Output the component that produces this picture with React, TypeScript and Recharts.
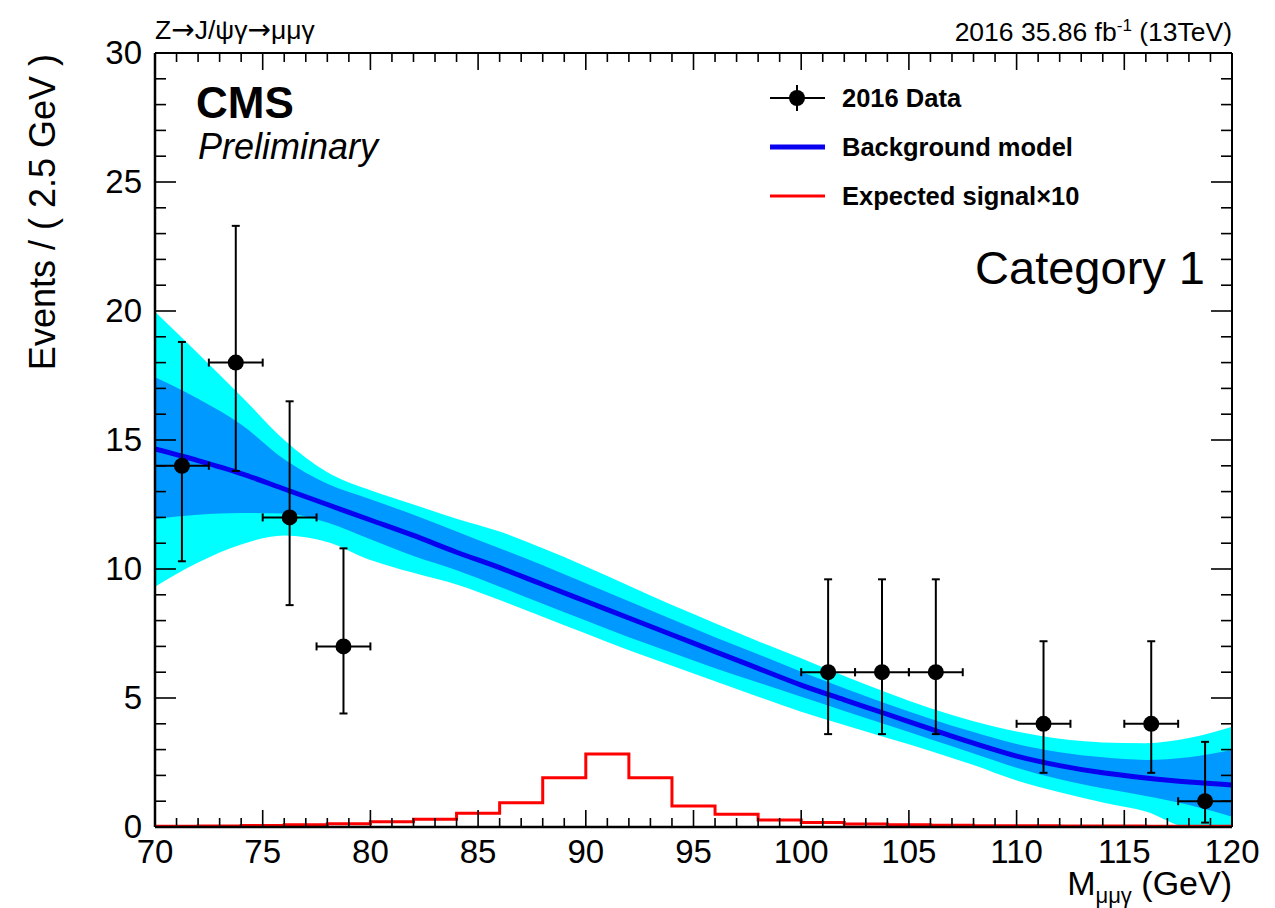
import React from 'react';
import { ComposedChart, Area, Line, Scatter, XAxis, YAxis, ErrorBar } from 'recharts';

// Background model: sampling points in M(μμγ) [GeV]
const MASS = [70, 72, 74, 76, 78, 80, 82, 84, 86, 88, 90, 92, 94, 96, 98, 100, 102, 104, 106, 108, 110, 112, 114, 116, 118, 120];
// Fitted background shape (events / 2.5 GeV)
const BKG = [14.65, 14.2, 13.7, 13.1, 12.5, 11.9, 11.3, 10.65, 10.05, 9.4, 8.75, 8.1, 7.45, 6.8, 6.15, 5.5, 4.93, 4.37, 3.8, 3.25, 2.75, 2.38, 2.1, 1.9, 1.74, 1.63];
// ±1σ uncertainty band
const BKG_1S_LO = [11.94, 12.1, 12.17, 12.15, 11.8, 11.15, 10.5, 9.95, 9.31, 8.65, 8.0, 7.35, 6.75, 6.15, 5.6, 5.05, 4.5, 3.95, 3.4, 2.85, 2.3, 1.85, 1.5, 1.2, 0.85, 0.4];
const BKG_1S_HI = [17.43, 16.6, 15.6, 14.25, 13.3, 12.7, 12.1, 11.45, 10.8, 10.15, 9.45, 8.75, 8.05, 7.35, 6.7, 6.02, 5.38, 4.77, 4.2, 3.68, 3.22, 2.9, 2.7, 2.6, 2.7, 2.98];
// ±2σ uncertainty band
const BKG_2S_LO = [9.31, 10.25, 10.95, 11.3, 11.05, 10.35, 9.85, 9.4, 8.8, 8.15, 7.5, 6.85, 6.25, 5.65, 5.05, 4.47, 3.95, 3.45, 2.95, 2.4, 1.8, 1.35, 0.95, 0.6, 0.0, 0.0];
const BKG_2S_HI = [19.97, 18.35, 16.7, 15.0, 13.75, 13.05, 12.5, 11.95, 11.45, 10.8, 10.1, 9.35, 8.6, 7.9, 7.2, 6.54, 5.85, 5.2, 4.6, 4.1, 3.7, 3.42, 3.28, 3.25, 3.45, 3.89];

// Expected signal (×10), 2 GeV bins: lower edges and contents
const SIG_EDGES = [70, 72, 74, 76, 78, 80, 82, 84, 86, 88, 90, 92, 94, 96, 98, 100, 102, 104, 106, 108, 110, 112, 114, 116, 118];
const SIG_X10 = [0.03, 0.04, 0.06, 0.09, 0.13, 0.2, 0.3, 0.53, 0.94, 1.91, 2.83, 1.91, 0.81, 0.49, 0.27, 0.17, 0.12, 0.09, 0.07, 0.05, 0.05, 0.04, 0.04, 0.03, 0.03];
const SIG_LAST_EDGE = 120;

// 2016 data: bin centres, counts and Poisson intervals
const DATA_MASS = [71.25, 73.75, 76.25, 78.75, 101.25, 103.75, 106.25, 111.25, 116.25, 118.75];
const DATA_COUNTS = [14, 18, 12, 7, 6, 6, 6, 4, 4, 1];
const DATA_LO = [10.3, 13.8, 8.6, 4.4, 3.6, 3.6, 3.6, 2.1, 2.1, 0.17];
const DATA_HI = [18.8, 23.3, 16.5, 10.8, 9.6, 9.6, 9.6, 7.2, 7.2, 3.3];
const BIN_HALF_WIDTH = 1.25;

// Axis ticks
const X_MAJOR = [70, 75, 80, 85, 90, 95, 100, 105, 110, 115, 120];
const Y_MAJOR = [0, 5, 10, 15, 20, 25, 30];
const X_TICKS = Array.from({ length: 51 }, (_, i) => 70 + i);
const Y_TICKS = Array.from({ length: 31 }, (_, i) => i);

const bandRows = MASS.map((m, i) => ({
  m,
  bkg: BKG[i],
  band1: [BKG_1S_LO[i], BKG_1S_HI[i]],
  band2: [BKG_2S_LO[i], BKG_2S_HI[i]],
}));

const sigRows = [
  ...SIG_EDGES.map((m, i) => ({ m, sig: SIG_X10[i] })),
  { m: SIG_LAST_EDGE, sig: SIG_X10[SIG_X10.length - 1] },
];

const pointRows = DATA_MASS.map((m, i) => ({
  m,
  n: DATA_COUNTS[i],
  ey: [DATA_COUNTS[i] - DATA_LO[i], DATA_HI[i] - DATA_COUNTS[i]],
  ex: BIN_HALF_WIDTH,
}));

const FONT = '"Liberation Sans", Arial, Helvetica, sans-serif';
const SYM_FONT = '"DejaVu Sans", sans-serif';
const W = 1275;
const H = 908;
const PLOT_L = 155;
const PLOT_R = 1232;
const PLOT_T = 53;
const PLOT_B = 827;

const BottomTick = (props: any) => {
  const { x, y, payload } = props;
  const v = payload.value;
  const major = X_MAJOR.includes(v);
  return (
    <g>
      <line x1={x} x2={x} y1={y} y2={y - (major ? 17 : 9)} stroke="#000" strokeWidth={1.6} />
      {major && (
        <text x={x} y={y + 36} textAnchor="middle" fontFamily={FONT} fontSize={33} fill="#000">
          {v}
        </text>
      )}
    </g>
  );
};

const TopTick = (props: any) => {
  const { x, y, payload } = props;
  const major = X_MAJOR.includes(payload.value);
  return <line x1={x} x2={x} y1={y} y2={y + (major ? 17 : 9)} stroke="#000" strokeWidth={1.6} />;
};

const LeftTick = (props: any) => {
  const { x, y, payload } = props;
  const v = payload.value;
  const major = Y_MAJOR.includes(v);
  return (
    <g>
      <line x1={x} x2={x + (major ? 21 : 11)} y1={y} y2={y} stroke="#000" strokeWidth={1.6} />
      {major && (
        <text x={x - 13} y={y + 11} textAnchor="end" fontFamily={FONT} fontSize={33} fill="#000">
          {v}
        </text>
      )}
    </g>
  );
};

const RightTick = (props: any) => {
  const { x, y, payload } = props;
  const major = Y_MAJOR.includes(payload.value);
  return <line x1={x} x2={x - (major ? 21 : 11)} y1={y} y2={y} stroke="#000" strokeWidth={1.6} />;
};

const DataMarker = (props: any) => {
  const { cx, cy } = props;
  return <circle cx={cx} cy={cy} r={8} fill="#000" />;
};

const Overlay = () => (
  <svg
    width={W}
    height={H}
    style={{ position: 'absolute', left: 0, top: 0, pointerEvents: 'none' }}
    fontFamily={FONT}
  >
    {/* header */}
    <text x={155} y={39} fontSize={26.5} fill="#000">
      Z<tspan fontFamily={SYM_FONT} fontSize={28}>→</tspan>J/ψγ<tspan fontFamily={SYM_FONT} fontSize={28}>→</tspan>μμγ
    </text>
    <text x={1232} y={41} fontSize={26.5} textAnchor="end" fill="#000">
      2016 35.86 fb<tspan fontSize={17} dy={-10}>-1</tspan>
      <tspan dy={10}> (13TeV)</tspan>
    </text>

    {/* experiment label */}
    <text x={196} y={118} fontSize={44} fontWeight="bold" fill="#000">CMS</text>
    <text x={198} y={159} fontSize={36} fontStyle="italic" fill="#000">Preliminary</text>

    {/* category label */}
    <text x={1205} y={284} fontSize={47} textAnchor="end" fill="#000">Category 1</text>

    {/* legend */}
    <line x1={770} x2={825} y1={98} y2={98} stroke="#000" strokeWidth={2} />
    <line x1={797} x2={797} y1={85} y2={111} stroke="#000" strokeWidth={2} />
    <circle cx={797} cy={98} r={8} fill="#000" />
    <text x={842} y={107} fontSize={25.5} fontWeight="bold" fill="#000">2016 Data</text>

    <line x1={770} x2={825} y1={147} y2={147} stroke="#0a00f0" strokeWidth={5} />
    <text x={842} y={156} fontSize={25.5} fontWeight="bold" fill="#000">Background model</text>

    <line x1={770} x2={825} y1={196} y2={196} stroke="#ff0000" strokeWidth={3} />
    <text x={842} y={205} fontSize={25.5} fontWeight="bold" fill="#000">Expected signal×10</text>

    {/* axis titles */}
    <text
      x={0}
      y={0}
      transform="translate(55,54) rotate(-90)"
      fontSize={36}
      textAnchor="end"
      fill="#000"
    >
      Events / ( 2.5 GeV )
    </text>
    <text x={1232} y={895} fontSize={34} textAnchor="end" fill="#000">
      M<tspan fontSize={22} dy={8}>μμγ</tspan>
      <tspan dy={-8}> (GeV)</tspan>
    </text>
  </svg>
);

export default function App() {
  return (
    <div style={{ position: 'absolute', left: 0, top: 0, width: W, height: H, background: '#fff' }}>
      <ComposedChart
        width={W}
        height={H}
        data={bandRows}
        margin={{ top: PLOT_T - 1, right: W - PLOT_R - 1, bottom: H - PLOT_B - 60, left: PLOT_L - 80 }}
      >
        <XAxis
          xAxisId="bottom"
          dataKey="m"
          type="number"
          domain={[70, 120]}
          ticks={X_TICKS}
          interval={0}
          height={60}
          tickSize={0}
          tickMargin={0}
          tick={<BottomTick />}
          tickLine={false}
          axisLine={{ stroke: '#000', strokeWidth: 2.5 }}
          allowDataOverflow
        />
        <XAxis
          xAxisId="top"
          orientation="top"
          dataKey="m"
          type="number"
          domain={[70, 120]}
          ticks={X_TICKS}
          interval={0}
          height={1}
          tickSize={0}
          tickMargin={0}
          tick={<TopTick />}
          tickLine={false}
          axisLine={{ stroke: '#000', strokeWidth: 2 }}
          allowDataOverflow
        />
        <YAxis
          yAxisId="left"
          type="number"
          domain={[0, 30]}
          ticks={Y_TICKS}
          interval={0}
          width={80}
          tickSize={0}
          tickMargin={0}
          tick={<LeftTick />}
          tickLine={false}
          axisLine={{ stroke: '#000', strokeWidth: 2.5 }}
          allowDataOverflow
        />
        <YAxis
          yAxisId="right"
          orientation="right"
          type="number"
          domain={[0, 30]}
          ticks={Y_TICKS}
          interval={0}
          width={1}
          tickSize={0}
          tickMargin={0}
          tick={<RightTick />}
          tickLine={false}
          axisLine={{ stroke: '#000', strokeWidth: 2 }}
          allowDataOverflow
        />

        <Area
          xAxisId="bottom"
          yAxisId="left"
          dataKey="band2"
          type="monotone"
          fill="#00ffff"
          fillOpacity={1}
          stroke="none"
          isAnimationActive={false}
        />
        <Area
          xAxisId="bottom"
          yAxisId="left"
          dataKey="band1"
          type="monotone"
          fill="#0099ff"
          fillOpacity={1}
          stroke="none"
          isAnimationActive={false}
        />
        <Line
          xAxisId="bottom"
          yAxisId="left"
          dataKey="bkg"
          type="monotone"
          stroke="#0a00f0"
          strokeWidth={5}
          dot={false}
          isAnimationActive={false}
        />
        {/* signal histogram is drawn against the mirrored top/right axes (same ranges) */}
        <Line
          xAxisId="top"
          yAxisId="right"
          data={sigRows}
          dataKey="sig"
          type="stepAfter"
          stroke="#ff0000"
          strokeWidth={3}
          dot={false}
          isAnimationActive={false}
        />
        <Scatter
          xAxisId="bottom"
          yAxisId="left"
          data={pointRows}
          dataKey="n"
          shape={<DataMarker />}
          isAnimationActive={false}
        >
          <ErrorBar dataKey="ey" direction="y" width={4} stroke="#000" strokeWidth={2} isAnimationActive={false} />
          <ErrorBar dataKey="ex" direction="x" width={4} stroke="#000" strokeWidth={2} isAnimationActive={false} />
        </Scatter>
      </ComposedChart>
      <Overlay />
    </div>
  );
}
